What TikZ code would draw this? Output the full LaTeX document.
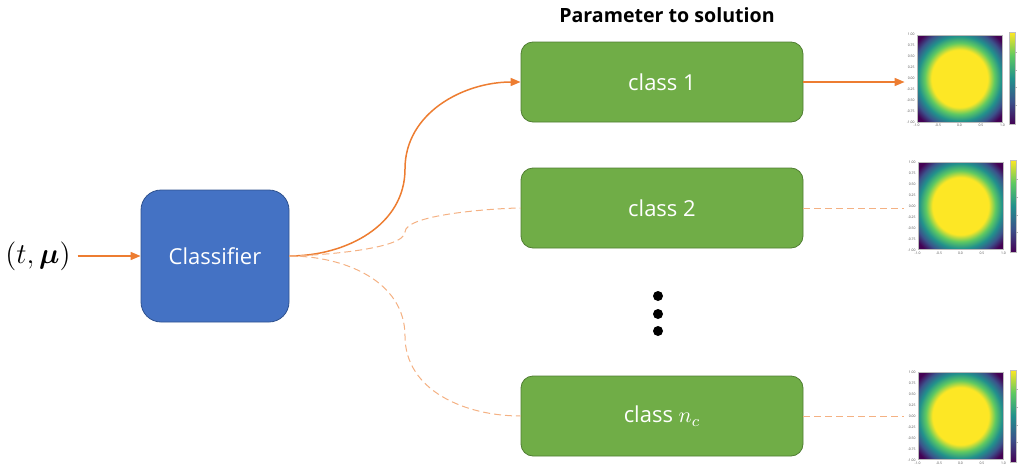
\documentclass[tikz,border=0pt]{standalone}
\usepackage{amsmath}
\usepackage{fontspec}
\setsansfont{Open Sans}
\usetikzlibrary{positioning,calc,arrows.meta}

\definecolor{classBlue}{HTML}{4472C4}
\definecolor{classEdge}{HTML}{2F528F}
\definecolor{solGreen}{HTML}{70AD47}
\definecolor{solEdge}{HTML}{507E32}
\definecolor{flowOrange}{HTML}{ED7D31}
\definecolor{flowLight}{HTML}{F4B183}
\definecolor{virYellow}{HTML}{FDE725}
\definecolor{virGreen}{HTML}{5EC962}
\definecolor{virTeal}{HTML}{21918C}
\definecolor{virBlue}{HTML}{3B528B}
\definecolor{virPurple}{HTML}{440154}

\pgfdeclareradialshading{viridis}{\pgfpoint{0bp}{0bp}}{color(0bp)=(virYellow); color(16.5bp)=(virYellow); color(20.5bp)=(virGreen); color(24.5bp)=(virTeal); color(28.5bp)=(virBlue); color(32.5bp)=(virPurple); color(50bp)=(virPurple)}
\pgfdeclareverticalshading{viridisbar}{100bp}{color(0bp)=(virPurple); color(25bp)=(virPurple); color(37.5bp)=(virBlue); color(50bp)=(virTeal); color(62.5bp)=(virGreen); color(75bp)=(virYellow); color(100bp)=(virYellow)}

\tikzset{
  classbox/.style={rectangle, rounded corners=10pt, minimum width=74pt, minimum height=66pt,
    fill=classBlue, draw=classEdge, text=white, font=\sffamily\fontsize{11}{13}\selectfont},
  solbox/.style={rectangle, rounded corners=6pt, minimum width=141pt, minimum height=40pt,
    fill=solGreen, draw=solEdge, text=white, font=\sffamily\fontsize{11}{13}\selectfont},
  heatmap/.style={rectangle, inner sep=0pt, minimum width=42.5pt, minimum height=43.5pt,
    shade, shading=viridis, draw=gray!55, line width=0.4pt},
  ticklabel/.style={inner sep=0.3pt, text=black!70, font=\sffamily\fontsize{1.7}{2}\selectfont},
  flow/.style={draw=flowOrange, line width=0.75pt},
  flowdash/.style={draw=flowLight, line width=0.5pt, dash pattern=on 3.5pt off 2pt}
  }
\tikzstyle{tip} = [-{Triangle[length=5pt,width=4pt]}]
\tikzstyle{dot} = [circle, fill=black, minimum size=5pt, inner sep=0pt]

\begin{document}
\begin{tikzpicture}[x=0.5pt, y=-0.5pt]
  \useasboundingbox (0,0) rectangle (1018,466);

  \node[font=\sffamily\bfseries\fontsize{9.8}{12}\selectfont] (title) at (667,15) {Parameter to solution};

  \node (input) at (38,256) {\Large$(t,\boldsymbol{\mu})$};
  \node[classbox] (cls) at (215,256) {Classifier};

  \foreach \pos/\name/\lbl in {{(662,82)/c1/class 1}, {(662,208)/c2/class 2}, {(662,416)/c3/class $n_c$}} {
    \node[solbox] (\name) at \pos {\lbl};
  }

  \foreach \y/\name in {296/d1, 314/d2, 331/d3} {
    \node[dot] (\name) at (658,\y) {};
  }

  \foreach \pos/\name in {{(959.5,78.5)/hm1}, {(960.5,206)/hm2}, {(960.5,416)/hm3}} {
    \node[heatmap] (\name) at \pos {};
    \shade[shading=viridisbar, draw=gray!50, line width=0.2pt]
      ($(\name.north east)+(7,-2)$) rectangle ($(\name.south east)+(13,2)$);
    \foreach \v [count=\i from 0] in {1.00,0.75,0.50,0.25,0.00,-0.25,-0.50,-0.75,-1.00} {
      \node[ticklabel, anchor=east] (\name-y\i) at ($(\name.north west)!\i/8!(\name.south west)+(-1,0)$) {\v};
    }
    \foreach \v [count=\i from 0] in {-1.0,-0.5,0.0,0.5,1.0} {
      \node[ticklabel, anchor=north] (\name-x\i) at ($(\name.south west)!\i/4!(\name.south east)+(0,1)$) {\v};
    }
    \foreach \i in {1,...,4} {
      \draw[gray!60, line width=0.2pt] ($(\name.north east)!\i/5!(\name.south east)+(13,0)$) -- +(2,0);
    }
  }

  \path[flow, tip] (input) -- (cls);
  \path[flow, tip] (cls.east) to[out=0, in=-90] ($(cls.east)!0.5!(c1.west)$) to[out=90, in=180] (c1.west);
  \path[flowdash] (cls.east) to[out=0, in=-90, looseness=0.4] ($(cls.east)!0.5!(c2.west)$) to[out=90, in=180, looseness=0.4] (c2.west);
  \path[flowdash] (cls.east) to[out=0, in=90] ($(cls.east)!0.5!(c3.west)$) to[out=-90, in=180] (c3.west);

  \path[flow, tip, shorten >=6pt] (c1.east) -- (c1.east -| hm1.west);
  \path[flowdash, shorten >=7pt] (c2.east) -- (c2.east -| hm2.west);
  \path[flowdash, shorten >=7pt] (c3.east) -- (c3.east -| hm3.west);
\end{tikzpicture}
\end{document}
